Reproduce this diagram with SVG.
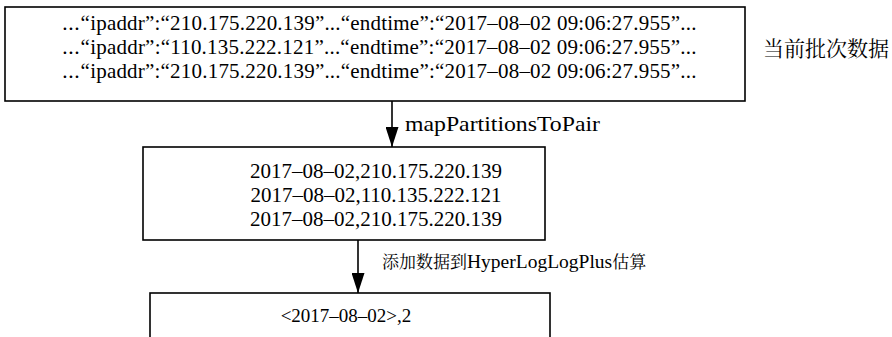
<svg xmlns="http://www.w3.org/2000/svg" width="892" height="337" viewBox="0 0 892 337">
  <defs>
    <marker id="arrow" viewBox="0 0 20 13" refX="20" refY="6.5" markerWidth="20" markerHeight="13" markerUnits="userSpaceOnUse" orient="auto">
      <path d="M0,0 L20,6.5 L0,13 Z" fill="#000000"/>
    </marker>
  </defs>
  <rect width="892" height="337" fill="#ffffff"/>

  <g font-family="'Liberation Serif', 'DejaVu Serif', 'Noto Serif CJK SC', 'Noto Sans CJK SC', serif" font-size="21" fill="#000000">
    <g id="batch-data">
      <rect x="5" y="7" width="740" height="94" fill="#ffffff" stroke="#000000" stroke-width="1.6"/>
      <text x="379" y="30" text-anchor="middle" textLength="635">⋯“ipaddr”:“210.175.220.139”...“endtime”:“2017–08–02 09:06:27.955”...</text>
      <text x="379" y="54" text-anchor="middle" textLength="635">⋯“ipaddr”:“110.135.222.121”...“endtime”:“2017–08–02 09:06:27.955”...</text>
      <text x="379" y="78" text-anchor="middle" textLength="635">⋯“ipaddr”:“210.175.220.139”...“endtime”:“2017–08–02 09:06:27.955”...</text>
    </g>

    <g id="batch-label">
      <text x="763" y="56" font-family="'Noto Serif CJK SC', 'Noto Sans CJK SC', serif" font-size="21">当前批次数据</text>
    </g>

    <g id="pairs">
      <rect x="143" y="147" width="402" height="93" fill="#ffffff" stroke="#000000" stroke-width="1.6"/>
      <text x="376" y="178" text-anchor="middle">2017–08–02,210.175.220.139</text>
      <text x="376" y="202" text-anchor="middle">2017–08–02,110.135.222.121</text>
      <text x="376" y="226" text-anchor="middle">2017–08–02,210.175.220.139</text>
    </g>

    <g id="estimate">
      <rect x="150" y="293" width="400" height="60" fill="#ffffff" stroke="#000000" stroke-width="1.6"/>
      <text x="346" y="322" text-anchor="middle" font-size="19">&lt;2017–08–02&gt;,2</text>
    </g>

    <g id="connectors">
      <line x1="392" y1="101" x2="392" y2="147" stroke="#000000" stroke-width="1.6" marker-end="url(#arrow)"/>
      <text x="405" y="131" textLength="195" lengthAdjust="spacingAndGlyphs">mapPartitionsToPair</text>
      <line x1="358" y1="240" x2="358" y2="293" stroke="#000000" stroke-width="1.6" marker-end="url(#arrow)"/>
      <text x="382" y="268"><tspan font-size="17">添加数据到</tspan><tspan font-size="19.5">HyperLogLogPlus</tspan><tspan font-size="17">估算</tspan></text>
    </g>
  </g>
</svg>
